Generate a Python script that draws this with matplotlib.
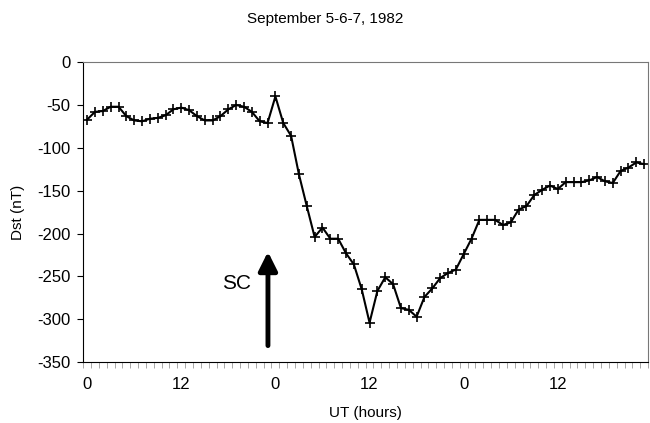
import matplotlib
matplotlib.use('Agg')
import matplotlib.pyplot as plt
import numpy as np

# Dst index, hourly, Sept 5-7 1982
dst = [-67, -58, -57, -52, -52, -63, -68, -69, -66, -65, -62, -55,
       -53, -56, -63, -68, -68, -63, -55, -50, -52, -58, -69, -71,
       -40, -71, -86, -131, -168, -204, -193, -206, -206, -223, -236, -265,
       -304, -267, -251, -259, -287, -289, -297, -274, -264, -252, -246, -242,
       -224, -206, -184, -184, -184, -190, -187, -172, -168, -155, -149, -144,
       -148, -140, -140, -140, -138, -134, -139, -141, -127, -123, -117, -119]
tick_pos = [0, 12, 24, 36, 48, 60]
tick_labels = ['0', '12', '0', '12', '0', '12']
y_ticks = [0, -50, -100, -150, -200, -250, -300, -350]

plt.rcParams['font.family'] = ['Liberation Sans', 'DejaVu Sans']

fig = plt.figure(figsize=(6.5, 4.23), dpi=100)
ax = fig.add_axes([0.128, 0.144, 0.869, 0.709])

hours = np.arange(len(dst))
ax.plot(hours, dst, color='black', lw=1.5, marker='+', markersize=7.5,
        markeredgewidth=1.2)

ax.set_xlim(-0.5, len(dst) - 0.5)
ax.set_ylim(-350, 0)
ax.set_yticks(y_ticks)
ax.set_yticklabels([str(v) for v in y_ticks], fontsize=12)
ax.set_xticks(tick_pos)
ax.set_xticklabels(tick_labels, fontsize=12)
ax.set_xticks(np.arange(len(dst) + 1) - 0.5, minor=True)
ax.tick_params(axis='x', which='major', length=0, pad=11)
ax.tick_params(axis='x', which='minor', length=4, color='#999999', direction='out')
ax.tick_params(axis='y', length=4, direction='out', pad=5)

for s in ['top', 'right']:
    ax.spines[s].set_color('#777777')
ax.spines['left'].set_color('black')
ax.spines['bottom'].set_color('black')

ax.set_ylabel('Dst (nT)', fontsize=11, labelpad=9)
ax.set_xlabel('UT (hours)', fontsize=11, labelpad=10)
fig.suptitle('September 5-6-7, 1982', fontsize=11, y=0.972)

# storm sudden commencement marker
ax.annotate('', xy=(23.05, -218), xytext=(23.05, -334),
            arrowprops=dict(arrowstyle='-|>', lw=3.5, mutation_scale=28,
                            color='black'))
ax.text(19.1, -258, 'SC', fontsize=15, ha='center', va='center')

fig.savefig('out.png', dpi=100)
